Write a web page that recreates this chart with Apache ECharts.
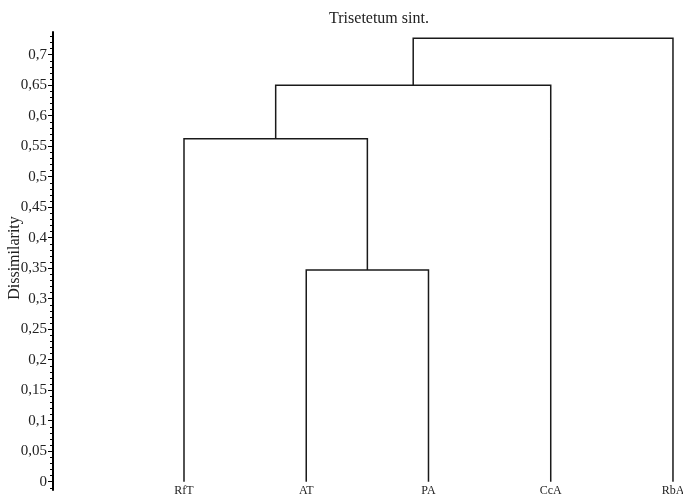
<!DOCTYPE html>
<html>
<head>
<meta charset="utf-8">
<script src="https://cdn.jsdelivr.net/npm/echarts@6/dist/echarts.min.js"></script>
<style>
html,body{margin:0;padding:0;background:#fff;}
#main{width:683px;height:497px;}
</style>
</head>
<body>
<div id="main"></div>
<script>
// Leaves in display order
var leaves = ['RfT', 'AT', 'PA', 'CcA', 'RbA'];
// Merge steps: [childA, childB, height]; node ids >= leaves.length refer to earlier merges
var mergeA = [1, 0, 6, 7];
var mergeB = [2, 5, 3, 4];
var mergeHeights = [0.347, 0.562, 0.650, 0.727];
// Axis tick labels
var yTicks = [0, 0.05, 0.1, 0.15, 0.2, 0.25, 0.3, 0.35, 0.4, 0.45, 0.5, 0.55, 0.6, 0.65, 0.7];
var yMinorTicks = [];
for (var k = -1; k <= 73; k++) { yMinorTicks.push(+(k * 0.01).toFixed(2)); }

// Build node positions from the tree structure
var nodeX = leaves.map(function (_, i) { return i; });
var nodeH = leaves.map(function () { return 0; });
var links = [];
for (var m = 0; m < mergeHeights.length; m++) {
  var a = mergeA[m], b = mergeB[m], h = mergeHeights[m];
  links.push([nodeX[a], nodeH[a], nodeX[b], nodeH[b], h]);
  nodeX.push((nodeX[a] + nodeX[b]) / 2);
  nodeH.push(h);
}

var chart = echarts.init(document.getElementById('main'));
var serif = '"Liberation Serif", "DejaVu Serif", serif';
chart.setOption({
  animation: false,
  backgroundColor: '#fff',
  title: {
    text: 'Trisetetum sint.',
    left: 374, top: 6, textAlign: 'center',
    textStyle: { fontFamily: serif, fontSize: 16, fontWeight: 'normal', color: '#222' }
  },
  graphic: [{
    type: 'text', x: 15, y: 258, rotation: Math.PI / 2,
    style: {
      text: 'Dissimilarity', align: 'center', verticalAlign: 'middle',
      font: '16px ' + serif, fill: '#222'
    }
  }],
  grid: { left: 53, right: 0, top: 32, bottom: 7, outerBoundsMode: 'none', containLabel: false },
  xAxis: { type: 'value', min: -1.0716, max: 4.082, show: false },
  yAxis: [{
    type: 'value', min: -0.0136, max: 0.7372, position: 'left',
    axisLine: { show: true, onZero: false, lineStyle: { color: '#000', width: 2 } },
    axisTick: { show: true, length: 5, customValues: yTicks, lineStyle: { color: '#000', width: 1 } },
    axisLabel: {
      customValues: yTicks, margin: 6,
      fontFamily: serif, fontSize: 15, color: '#222',
      formatter: function (v) { return String(+v.toFixed(2)).replace('.', ','); }
    },
    splitLine: { show: false }
  }, {
    type: 'value', min: -0.0136, max: 0.7372, position: 'left',
    axisLine: { show: false, onZero: false },
    axisTick: { show: true, length: 3, customValues: yMinorTicks, lineStyle: { color: '#000', width: 1 } },
    axisLabel: { show: false },
    splitLine: { show: false }
  }],
  series: [{
    type: 'custom',
    coordinateSystem: 'cartesian2d',
    data: links,
    renderItem: function (params, api) {
      var p1 = api.coord([api.value(0), api.value(1)]);
      var p1t = api.coord([api.value(0), api.value(4)]);
      var p2t = api.coord([api.value(2), api.value(4)]);
      var p2 = api.coord([api.value(2), api.value(3)]);
      return {
        type: 'polyline',
        shape: { points: [p1, p1t, p2t, p2] },
        style: { fill: null, stroke: '#1a1a1a', lineWidth: 1.5 }
      };
    }
  }, {
    type: 'custom',
    coordinateSystem: 'cartesian2d',
    data: leaves.map(function (n, i) { return [i, 0, n]; }),
    renderItem: function (params, api) {
      var p = api.coord([api.value(0), api.value(1)]);
      return {
        type: 'text',
        style: {
          x: p[0], y: p[1] + 3, text: leaves[params.dataIndex],
          align: 'center', verticalAlign: 'top',
          font: '12px ' + serif, fill: '#222'
        }
      };
    }
  }]
});
</script>
</body>
</html>
